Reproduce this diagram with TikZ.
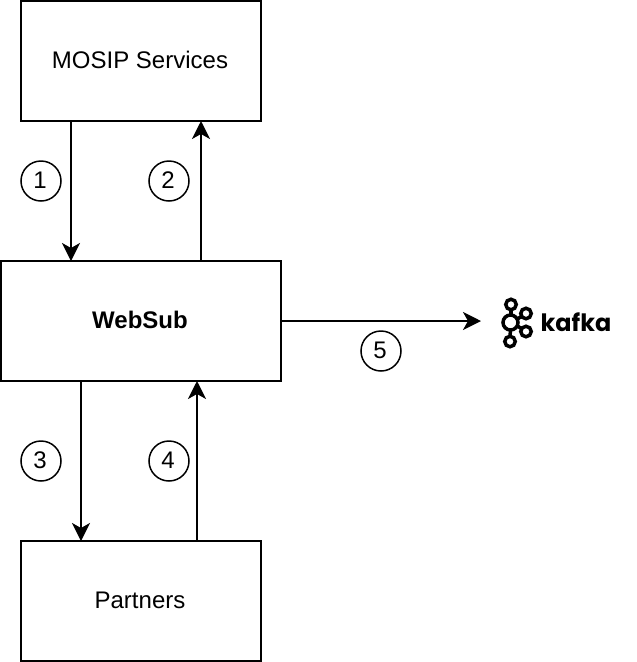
\documentclass[tikz,border=0pt]{standalone}
\usepackage{fontspec}
\setmainfont{Liberation Sans}
\newfontfamily\kafkafont{Poppins}
\usetikzlibrary{positioning, arrows.meta}

\tikzset{
  label text/.style={text height=0.34cm, text depth=0.05cm, font=\fontsize{13.66pt}{16pt}\selectfont, execute at begin node=\hspace*{-0.04cm}},
  box/.style={draw, label text, line width=0.04cm, outer sep=0pt, minimum height=2.4cm},
  num/.style={draw, circle, label text, line width=0.03cm, outer sep=0pt, inner sep=0pt, minimum size=0.8cm},
  flow/.style={line width=0.04cm, -{Stealth[length=0.36cm, width=0.36cm, inset=0.1cm]}},
  logo/.style={line width=0.07cm}
}

\begin{document}
\begin{tikzpicture}
        \useasboundingbox (0,0) rectangle (12.72,-13.24);

        \node[box, minimum width=4.8cm] (mosip)    at (2.82,-1.22)  {MOSIP Services};
        \node[box, minimum width=5.6cm] (websub)   at (2.82,-6.42)  {\textbf{WebSub}};
        \node[box, minimum width=4.8cm] (partners) at (2.82,-12.02) {Partners};
        \coordinate (kafka) at (9.62,-6.42);

        \node[num] (n1) at (0.82,-3.62) {1};
        \node[num] (n2) at (3.38,-3.62) {2};
        \node[num] (n3) at (0.82,-9.22) {3};
        \node[num] (n4) at (3.38,-9.22) {4};
        \node[num] (n5) at (7.62,-7.02) {5};

        \draw[flow] ([xshift=-1.4cm]mosip.south)   -- ([xshift=-1.4cm]websub.north);    %down
        \draw[flow] ([xshift=1.2cm]websub.north)   -- ([xshift=1.2cm]mosip.south);      %up
        \draw[flow] ([xshift=-1.2cm]websub.south)  -- ([xshift=-1.2cm]partners.north);  %down
        \draw[flow] ([xshift=1.12cm]partners.north) -- ([xshift=1.12cm]websub.south);   %up
        \draw[flow] (websub.east) -- (kafka);                                           %out

        %logo
        \draw[logo] (10.22,-6.19) -- (10.22,-6.3);
        \draw[logo] (10.21,-6.6) -- (10.2,-6.73);
        \draw[logo] (10.35,-6.38) -- (10.44,-6.32);
        \draw[logo] (10.35,-6.52) -- (10.44,-6.58);
        \draw[logo] (10.22,-6.09) circle (0.105);
        \draw[logo] (10.21,-6.45) circle (0.15);
        \draw[logo] (10.2,-6.83)  circle (0.105);
        \draw[logo] (10.52,-6.27) circle (0.105);
        \draw[logo] (10.52,-6.63) circle (0.105);
        \node[inner sep=0pt, font=\kafkafont\bfseries\fontsize{13.6pt}{16pt}\selectfont] (kafkatext) at (11.52,-6.45) {kafka};
      \end{tikzpicture}
\end{document}
